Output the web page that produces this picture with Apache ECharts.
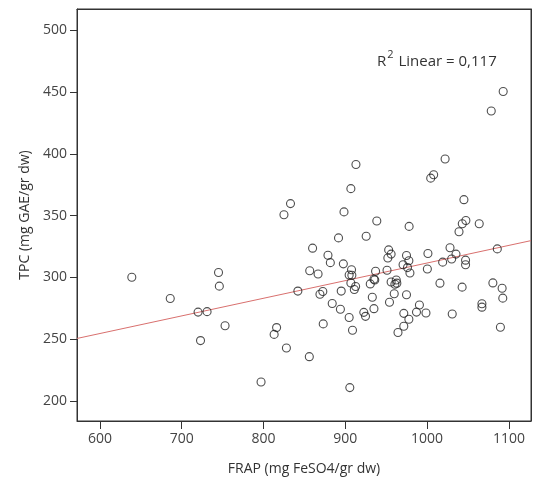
<!DOCTYPE html>
<html>
<head>
<meta charset="utf-8">
<script src="https://cdn.jsdelivr.net/npm/echarts@6/dist/echarts.min.js"></script>
<style>html,body{margin:0;padding:0;background:#fff;}#c{width:534px;height:481px;}</style>
</head>
<body>
<div id="c"></div>
<script>
// FRAP (x) values
const frap = [639,686,720,731,723,745,746,753,797,813,816,825,833,828,842,856,856.5,860,866.7,869,872.5,873,878.8,881.7,884,891.7,894,895,897.6,898.4,904.7,904.7,906.8,907.6,908,906.8,905.5,908.8,911,912.6,913,922.6,924.7,925.5,930.5,933,935,936,935,937,938.5,951,952,953,956,954,956,959.8,960.6,962.3,963,964.4,970.6,971.5,971.5,974.8,976,974.8,977.7,978,979,977.7,987,990.6,998.6,1000.3,1001,1004.4,1008,1015.7,1019,1022,1028,1030,1030.7,1035.3,1039,1043,1042.8,1045,1047.4,1047,1047,1063.7,1067,1067,1078.4,1080.4,1085.8,1089.6,1091.7,1093,1092.5];
// TPC (y) values
const tpc = [300.2,283,272,272.4,249,304,293,261,215.5,254,259.5,350.7,359.7,243,289,236,305.5,323.7,302.8,286.5,288.7,262.5,318,312,279,332,274.3,289,311,353,267.6,302,371.8,306.3,301.8,295.6,211,257.4,290.3,292.7,391.3,271.8,268.6,333.3,294.8,284,298.6,298,274.8,305,345.6,305.8,315.7,322.3,318.9,280,296.4,286.8,294.5,298,295.4,255.5,310.3,271,260.6,317.8,308,286,313.5,341.3,303.6,266.2,272,277.7,271.3,306.8,319.4,380.3,383,295.4,312.4,395.8,324,314.9,270.5,318.9,337,343.4,292.2,362.9,346,314,310.3,343.4,278.8,276,434.5,295.6,323.1,259.8,291.3,450.3,283.3];
// Fit line (as drawn)
const fitIntercept = 169.2;
const fitSlope = 0.1425;
const xRange = [572, 1127];
const yRange = [184, 517];
const xTicks = [600, 700, 800, 900, 1000, 1100];
const yTicks = [200, 250, 300, 350, 400, 450, 500];
const r2Text = '0,117';

const points = frap.map((x, i) => [x, tpc[i]]);
const fitLine = xRange.map(x => [x, fitIntercept + fitSlope * x]);

const FONT = '"Open Sans", "DejaVu Sans", sans-serif';
const frameAxis = {
  type: 'value', axisLine: { show: true, onZero: false, lineStyle: { color: '#333', width: 1 } },
  axisTick: { show: false }, axisLabel: { show: false }, splitLine: { show: false }
};
const chart = echarts.init(document.getElementById('c'));
chart.setOption({
  animation: false,
  backgroundColor: '#fff',
  grid: { left: 77, right: 3, top: 9, bottom: 57, containLabel: false, show: true,
          borderColor: '#333', borderWidth: 1, backgroundColor: 'rgba(0,0,0,0)' },
  title: {
    text: '{a|R}{s|2}{a| Linear = ' + r2Text + '}',
    left: 372, top: 44,
    textStyle: {
      fontWeight: 'normal',
      rich: {
        a: { fontSize: 15, fontWeight: 'normal', color: '#333', fontFamily: FONT, verticalAlign: 'bottom', lineHeight: 20 },
        s: { fontSize: 11, fontWeight: 'normal', color: '#333', fontFamily: FONT, verticalAlign: 'top', lineHeight: 20, padding: [0, 1, 6, 1] }
      }
    }
  },
  xAxis: [{
    type: 'value', min: xRange[0], max: xRange[1],
    name: 'FRAP (mg FeSO4/gr dw)', nameLocation: 'middle', nameGap: 41,
    nameTextStyle: { fontSize: 14, color: '#333', fontFamily: FONT },
    axisLine: { show: true, onZero: false, lineStyle: { color: '#333', width: 1 } },
    axisTick: { show: true, length: 8, lineStyle: { color: '#333' }, customValues: xTicks },
    axisLabel: { fontSize: 14, color: '#444', fontFamily: FONT, margin: 11, customValues: xTicks,
                 formatter: v => String(v) },
    splitLine: { show: false }
  }, Object.assign({ position: 'top', min: xRange[0], max: xRange[1] }, frameAxis)],
  yAxis: [{
    type: 'value', min: yRange[0], max: yRange[1],
    name: 'TPC (mg GAE/gr dw)', nameLocation: 'middle', nameGap: 44,
    nameTextStyle: { fontSize: 14, color: '#333', fontFamily: FONT },
    axisLine: { show: true, onZero: false, lineStyle: { color: '#333', width: 1 } },
    axisTick: { show: true, length: 7, lineStyle: { color: '#333' }, customValues: yTicks },
    axisLabel: { fontSize: 14, color: '#444', fontFamily: FONT, margin: 10, customValues: yTicks,
                 formatter: v => String(v) },
    splitLine: { show: false }
  }, Object.assign({ position: 'right', min: yRange[0], max: yRange[1] }, frameAxis)],
  series: [
    {
      type: 'line', data: fitLine, symbol: 'none', silent: true,
      lineStyle: { color: '#d9706e', width: 1 }, z: 1
    },
    {
      type: 'scatter', data: points, symbol: 'circle', symbolSize: 8,
      itemStyle: { color: 'rgba(255,255,255,0)', borderColor: '#222', borderWidth: 1.1 }, z: 2
    }
  ]
});
</script>
</body>
</html>
